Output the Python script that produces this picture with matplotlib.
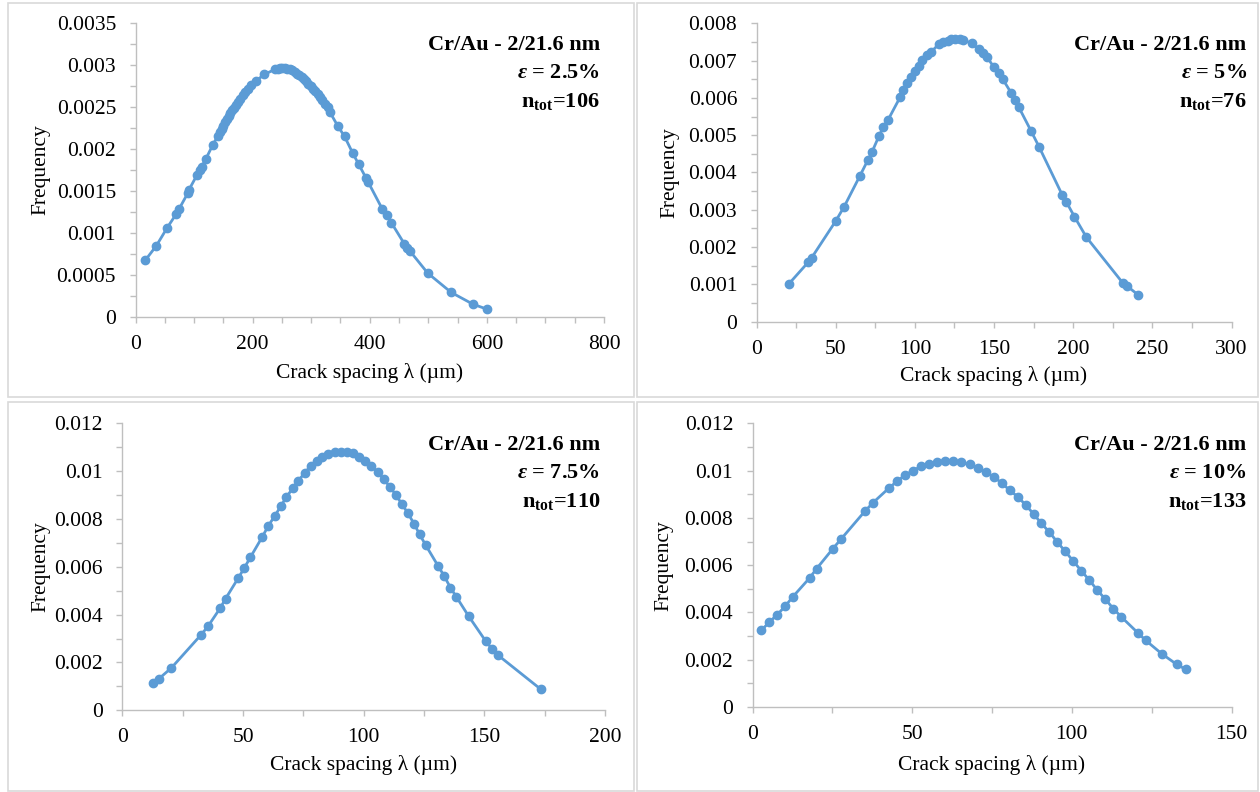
import numpy as np
import matplotlib
matplotlib.use("Agg")
import matplotlib.pyplot as plt
from matplotlib.patches import Rectangle
from matplotlib.ticker import MultipleLocator, FuncFormatter

plt.rcParams['font.family'] = ['Liberation Serif', 'DejaVu Serif']
plt.rcParams['mathtext.fontset'] = 'custom'
plt.rcParams['mathtext.rm'] = 'Liberation Serif'
plt.rcParams['mathtext.it'] = 'Liberation Serif:italic'
plt.rcParams['mathtext.bf'] = 'Liberation Serif:bold'
plt.rcParams['mathtext.bfit'] = 'Liberation Serif:italic:bold'

# --- data (crack spacing in um, frequency) ---
x_25 = [17, 35.5, 54, 70, 74, 89, 91, 105, 110, 113, 120, 132, 141, 144, 147, 150,
        153, 156, 159, 162, 165, 168, 171, 175, 179, 183, 187, 192, 197, 205, 220,
        238, 243, 247, 251, 255, 259, 263, 268, 272, 276, 280, 284, 288, 291, 295,
        299, 303, 307, 311, 315, 319, 324, 328, 332, 345, 357, 371, 381, 394, 397,
        421, 429, 437, 459, 464, 469, 499, 539, 576, 600]
y_25 = [0.000676, 0.000845, 0.00106, 0.00123, 0.00128, 0.00147, 0.00151, 0.00169,
        0.00175, 0.00179, 0.00188, 0.00205, 0.00216, 0.00220, 0.00224, 0.00228,
        0.00232, 0.00236, 0.00240, 0.00243, 0.00246, 0.00249, 0.00252, 0.00256,
        0.00260, 0.00264, 0.00268, 0.00272, 0.00276, 0.00281, 0.00289, 0.00295,
        0.00296, 0.00297, 0.00297, 0.00297, 0.00296, 0.00295, 0.00294, 0.00292,
        0.00290, 0.00288, 0.00286, 0.00283, 0.00281, 0.00278, 0.00275, 0.00272,
        0.00269, 0.00266, 0.00262, 0.00259, 0.00254, 0.00250, 0.00244, 0.00228,
        0.00215, 0.00195, 0.00182, 0.00165, 0.00161, 0.00129, 0.00121, 0.00112,
        0.00087, 0.00082, 0.00078, 0.00052, 0.00029, 0.00015, 0.00009]

x_5 = [20.3, 32.5, 34.8, 50, 55.3, 65.2, 70.3, 72.8, 77.4, 80, 83, 90.6, 92.6, 95.2,
       97.7, 100.3, 102.3, 104.8, 107.4, 110.4, 115, 117.5, 120.6, 123.1, 125.6,
       128.2, 130.7, 135.8, 140.4, 142.9, 145.4, 149.7, 153, 155.6, 160.7, 163.2,
       165.7, 173.4, 178.4, 193.1, 195.7, 200.8, 208.4, 231.2, 233.8, 241.1]
y_5 = [0.00101, 0.00159, 0.001716, 0.0027, 0.003083, 0.003905, 0.004334, 0.00454,
       0.004987, 0.00521, 0.005407, 0.006014, 0.006211, 0.00639, 0.006568, 0.006729,
       0.006854, 0.007015, 0.007149, 0.007239, 0.007435, 0.007489, 0.007534, 0.00757,
       0.007587, 0.00757, 0.007552, 0.007462, 0.007301, 0.007212, 0.007105, 0.006836,
       0.006676, 0.006497, 0.00614, 0.005943, 0.005746, 0.005112, 0.004692, 0.003396,
       0.003208, 0.002815, 0.002261, 0.001046, 0.000965, 0.000715]

x_75 = [12.7, 15.2, 20.3, 32.7, 35.5, 40.6, 42.8, 47.9, 50.4, 53, 58, 60.4, 63.1, 65.7,
        68, 70.6, 72.9, 75.5, 78, 80.5, 82.9, 85.4, 88, 90.5, 93.1, 95.6, 98.1, 100.7,
        103.2, 105.8, 108.3, 110.8, 113.4, 115.9, 118.4, 121, 123.2, 125.7, 130.8,
        133.4, 135.9, 138.4, 143.5, 150.6, 153.1, 155.7, 173.4]
y_75 = [0.001158, 0.001326, 0.001773, 0.003168, 0.003517, 0.004285, 0.004676, 0.005513,
        0.005932, 0.006392, 0.007258, 0.007704, 0.008123, 0.008542, 0.008932, 0.009281,
        0.009602, 0.009923, 0.010216, 0.010426, 0.010607, 0.010719, 0.010789, 0.010816,
        0.010816, 0.010747, 0.010607, 0.01044, 0.010216, 0.009951, 0.009672, 0.009351,
        0.009002, 0.008611, 0.008234, 0.007774, 0.007355, 0.006908, 0.006043, 0.00561,
        0.005136, 0.004745, 0.003936, 0.002889, 0.002582, 0.002303, 0.000879]

x_10 = [2.8, 5.3, 7.8, 10.3, 12.6, 17.9, 20.1, 25.2, 27.7, 35.2, 37.8, 42.8, 45.3, 47.8,
        50.3, 52.9, 55.4, 57.9, 60.4, 62.9, 65.4, 68, 70.5, 73, 75.5, 78, 80.5, 83.1,
        85.6, 88.1, 90.4, 92.9, 95.4, 97.9, 100.4, 103, 105.5, 108, 110.5, 113, 115.5,
        120.6, 123.1, 128.1, 132.8, 135.6]
y_10 = [0.003246, 0.003599, 0.00391, 0.004277, 0.004658, 0.005462, 0.005857, 0.006704,
        0.0071, 0.008285, 0.008652, 0.009273, 0.009555, 0.009809, 0.010007, 0.010191,
        0.01029, 0.010374, 0.010416, 0.010416, 0.010346, 0.010261, 0.01012, 0.00995,
        0.009739, 0.009485, 0.009174, 0.008892, 0.008539, 0.008158, 0.007777, 0.00741,
        0.006987, 0.006591, 0.006182, 0.005758, 0.005363, 0.00494, 0.004559, 0.004164,
        0.003811, 0.003147, 0.002823, 0.002258, 0.001807, 0.001595]

strain_labels = ["2.5%", "5%", "7.5%", "10%"]
n_tot = [106, 76, 110, 133]

W, H = 1260, 792
fig = plt.figure(figsize=(W / 100, H / 100), dpi=100, facecolor='white')

BLUE = '#5b9bd5'
GRAY = '#bfbfbf'

# pixel boxes: axes (l, t, r, b), frame (l, t, r, b), text right x, text top baseline
panels = [
    dict(x=x_25, y=y_25, ax=(135.5, 23.3, 604, 316.7), frame=(8, 3, 634, 397),
         xlim=800, xmaj=200, xmin=50, ylim=0.0035, ymaj=0.0005, ymin=0.00025,
         tx=600, ty=50, xlab_y=373, ylab_x=41),
    dict(x=x_5, y=y_5, ax=(756.6, 23.3, 1231.5, 321.7), frame=(637, 3, 1258, 397),
         xlim=300, xmaj=50, xmin=25, ylim=0.008, ymaj=0.001, ymin=0.0005,
         tx=1246.7, ty=50, xlab_y=376, ylab_x=670),
    dict(x=x_75, y=y_75, ax=(122.4, 423.4, 605, 710.3), frame=(8, 402, 634, 791),
         xlim=200, xmaj=50, xmin=25, ylim=0.012, ymaj=0.002, ymin=0.001,
         tx=600, ty=450, xlab_y=765, ylab_x=41),
    dict(x=x_10, y=y_10, ax=(752.5, 423.4, 1231.5, 707), frame=(637, 402, 1258, 791),
         xlim=150, xmaj=50, xmin=25, ylim=0.012, ymaj=0.002, ymin=0.001,
         tx=1246.7, ty=450, xlab_y=765, ylab_x=664),
]

fmt = FuncFormatter(lambda v, p: f"{v:g}" if abs(v) > 1e-12 else "0")

for i, p in enumerate(panels):
    fl, ft, fr, fb = p['frame']
    fig.add_artist(Rectangle((fl / W, 1 - fb / H), (fr - fl) / W, (fb - ft) / H,
                             transform=fig.transFigure, fill=False,
                             edgecolor='#d9d9d9', lw=1.2))
    l, t, r, b = p['ax']
    ax = fig.add_axes([l / W, 1 - b / H, (r - l) / W, (b - t) / H])
    ax.plot(p['x'], p['y'], '-o', color=BLUE, lw=2.0, ms=6, mec=BLUE, mfc=BLUE,
            clip_on=False)
    ax.set_xlim(0, p['xlim'])
    ax.set_ylim(0, p['ylim'])
    ax.xaxis.set_major_locator(MultipleLocator(p['xmaj']))
    ax.xaxis.set_minor_locator(MultipleLocator(p['xmin']))
    ax.yaxis.set_major_locator(MultipleLocator(p['ymaj']))
    ax.yaxis.set_minor_locator(MultipleLocator(p['ymin']))
    ax.yaxis.set_major_formatter(fmt)
    for s in ['top', 'right']:
        ax.spines[s].set_visible(False)
    for s in ['left', 'bottom']:
        ax.spines[s].set_color(GRAY)
        ax.spines[s].set_linewidth(1.0)
    ax.tick_params(which='both', direction='out', length=4, width=1.0, color=GRAY,
                   labelsize=15.5, labelcolor='black')
    ax.tick_params(axis='y', which='major', pad=10)
    ax.tick_params(axis='x', which='major', pad=9)

    ax.set_xlabel("Crack spacing λ (µm)", fontsize=15.5)
    ax.set_ylabel("Frequency", fontsize=15.5)
    ax.xaxis.label.set_verticalalignment('center')
    ax.yaxis.label.set_verticalalignment('center')
    ax.xaxis.set_label_coords(0.5, (b - p['xlab_y']) / (b - t))
    ax.yaxis.set_label_coords((p['ylab_x'] - l) / (r - l), 0.5)

    lines = ["Cr/Au - 2/21.6 nm",
             r"$\mathbfit{ε}$ = " + strain_labels[i],
             r"n$_{\mathbf{tot}}$=" + str(n_tot[i])]
    for k, s in enumerate(lines):
        fig.text(p['tx'] / W, 1 - (p['ty'] + 28.5 * k) / H, s, ha='right',
                 va='baseline', fontsize=16, fontweight='bold')

fig.savefig("out.png", dpi=100, facecolor='white')
